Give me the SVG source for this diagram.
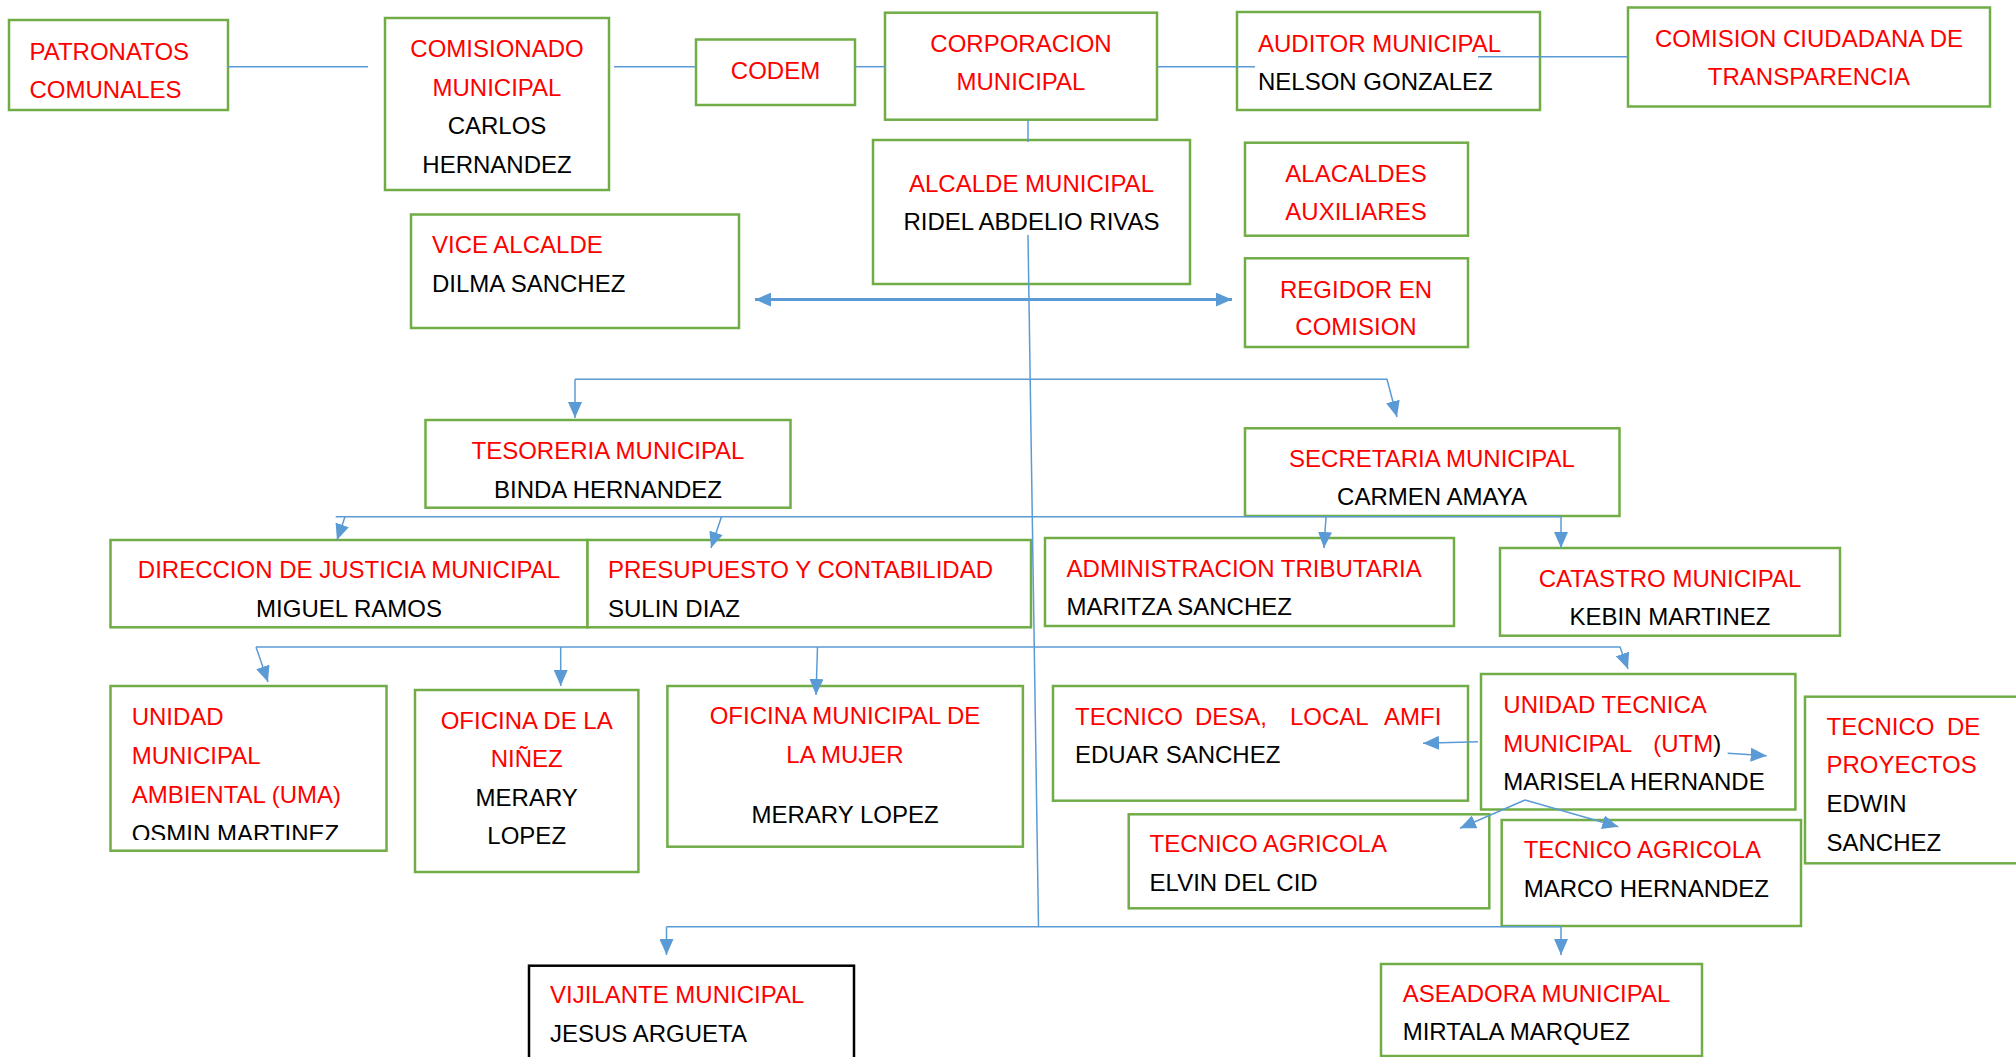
<svg xmlns="http://www.w3.org/2000/svg" width="2016" height="1057" viewBox="0 0 2016 1057">
<style>
text{font-family:"Liberation Sans",Arial,sans-serif;font-size:24px}
.r{fill:#FF0000}
.k{fill:#000000}
.m{text-anchor:middle}
.b{fill:#FFFFFF;stroke:#70AD47;stroke-width:2.5}
.bk{fill:#FFFFFF;stroke:#000000;stroke-width:2.5}
.c{fill:none;stroke:#5B9BD5;stroke-width:1.5}
.ca{fill:none;stroke:#5B9BD5;stroke-width:1.5;marker-end:url(#ah)}
.dbl{fill:none;stroke:#5B9BD5;stroke-width:3;marker-start:url(#ah);marker-end:url(#ah)}
</style>
<defs>
<marker id="ah" viewBox="0 0 16 14" refX="16" refY="7" markerWidth="16" markerHeight="14" markerUnits="userSpaceOnUse" orient="auto-start-reverse">
<path d="M0,0 L16,7 L0,14 z" fill="#5B9BD5"/>
</marker>
<clipPath id="umaClip"><rect x="100" y="680" width="300" height="160"/></clipPath>
</defs>
<rect width="2016" height="1057" fill="#FFFFFF"/>

<g id="n-patronatos"><rect class="b" x="9" y="20" width="219" height="90"/>
<text class="r" x="29.5" y="60">PATRONATOS</text><text class="r" x="29.5" y="97.5">COMUNALES</text></g>

<g id="n-comisionado"><rect class="b" x="385" y="18" width="224" height="172"/>
<text class="r m" x="497" y="57">COMISIONADO</text><text class="r m" x="497" y="95.7">MUNICIPAL</text>
<text class="k m" x="497" y="134.3">CARLOS</text><text class="k m" x="497" y="173">HERNANDEZ</text></g>

<g id="n-codem"><rect class="b" x="696" y="39.5" width="159" height="65.5"/>
<text class="r m" x="775.5" y="79">CODEM</text></g>

<g id="n-corporacion"><rect class="b" x="885" y="12.7" width="272" height="107"/>
<text class="r m" x="1021" y="51.7">CORPORACION</text><text class="r m" x="1021" y="89.5">MUNICIPAL</text></g>

<g id="n-auditor"><rect class="b" x="1237" y="12" width="303" height="98"/>
<text class="r" x="1258" y="51.7">AUDITOR MUNICIPAL</text><text class="k" x="1258" y="89.5">NELSON GONZALEZ</text></g>

<g id="n-comision"><rect class="b" x="1628" y="7.5" width="362" height="99"/>
<text class="r m" x="1809" y="46.7">COMISION CIUDADANA DE</text><text class="r m" x="1809" y="85">TRANSPARENCIA</text></g>

<g id="n-alcalde"><rect class="b" x="873" y="140" width="317" height="144"/>
<text class="r m" x="1031.5" y="191.7">ALCALDE MUNICIPAL</text><text class="k m" x="1031.5" y="230">RIDEL ABDELIO RIVAS</text></g>

<g id="n-alacaldes"><rect class="b" x="1245" y="142.7" width="223" height="93"/>
<text class="r m" x="1356" y="181.7">ALACALDES</text><text class="r m" x="1356" y="220">AUXILIARES</text></g>

<g id="n-regidor"><rect class="b" x="1245" y="258.3" width="223" height="88.7"/>
<text class="r m" x="1356" y="298">REGIDOR EN</text><text class="r m" x="1356" y="335">COMISION</text></g>

<g id="n-vice"><rect class="b" x="411" y="214.5" width="328" height="113.5"/>
<text class="r" x="432" y="253">VICE ALCALDE</text><text class="k" x="432" y="292">DILMA SANCHEZ</text></g>

<g id="n-tesoreria"><rect class="b" x="425.5" y="420" width="365" height="87.7"/>
<text class="r m" x="608" y="459">TESORERIA MUNICIPAL</text><text class="k m" x="608" y="497.7">BINDA HERNANDEZ</text></g>

<g id="n-secretaria"><rect class="b" x="1245" y="428.3" width="374.5" height="87.7"/>
<text class="r m" x="1432" y="466.7">SECRETARIA MUNICIPAL</text><text class="k m" x="1432" y="505">CARMEN AMAYA</text></g>

<g id="n-direccion"><rect class="b" x="110.5" y="540" width="477" height="87.3"/>
<text class="r m" x="349" y="578.3">DIRECCION DE JUSTICIA MUNICIPAL</text><text class="k m" x="349" y="617.3">MIGUEL RAMOS</text></g>

<g id="n-presupuesto"><rect class="b" x="587.5" y="540" width="443.5" height="87.3"/>
<text class="r" x="608" y="578.3">PRESUPUESTO Y CONTABILIDAD</text><text class="k" x="608" y="617.3">SULIN DIAZ</text></g>

<g id="n-admin"><rect class="b" x="1045" y="538" width="409" height="88"/>
<text class="r" x="1066.6" y="576.7">ADMINISTRACION TRIBUTARIA</text><text class="k" x="1066.6" y="615">MARITZA SANCHEZ</text></g>

<g id="n-catastro"><rect class="b" x="1500" y="548" width="340" height="87.7"/>
<text class="r m" x="1670" y="586.7">CATASTRO MUNICIPAL</text><text class="k m" x="1670" y="625">KEBIN MARTINEZ</text></g>

<g id="n-uma"><rect class="b" x="110.5" y="686" width="276" height="164.7"/>
<text class="r" x="131.7" y="725">UNIDAD</text><text class="r" x="131.7" y="764">MUNICIPAL</text>
<text class="r" x="131.7" y="802.7">AMBIENTAL (UMA)</text>
<text class="k" x="131.7" y="842" clip-path="url(#umaClip)">OSMIN MARTINEZ</text></g>

<g id="n-ninez"><rect class="b" x="415" y="690" width="223.4" height="182"/>
<text class="r m" x="526.7" y="729">OFICINA DE LA</text><text class="r m" x="526.7" y="767.3">NIÑEZ</text>
<text class="k m" x="526.7" y="805.7">MERARY</text><text class="k m" x="526.7" y="844.3">LOPEZ</text></g>

<g id="n-mujer"><rect class="b" x="667.4" y="686" width="355.5" height="160.7"/>
<text class="r m" x="845" y="724">OFICINA MUNICIPAL DE</text><text class="r m" x="845" y="763.3">LA MUJER</text>
<text class="k m" x="845" y="823.3">MERARY LOPEZ</text></g>

<g id="n-tecnico-desa"><rect class="b" x="1053" y="686" width="415" height="114.7"/>
<text class="r" y="725"><tspan x="1075">TECNICO</tspan><tspan x="1195">DESA,</tspan><tspan x="1290">LOCAL</tspan><tspan x="1384">AMFI</tspan></text>
<text class="k" x="1075" y="763.3">EDUAR SANCHEZ</text></g>

<g id="n-utm"><rect class="b" x="1481" y="674" width="314.4" height="135.5"/>
<text class="r" x="1503.3" y="712.7">UNIDAD TECNICA</text>
<text class="r" y="752.3"><tspan x="1503.3">MUNICIPAL</tspan><tspan x="1653.3">(UTM</tspan><tspan class="k">)</tspan></text>
<text class="k" x="1503.3" y="790">MARISELA HERNANDE</text></g>

<g id="n-proyectos"><rect class="b" x="1805" y="696.7" width="230" height="166.6"/>
<text class="r" y="735"><tspan x="1826.5">TECNICO</tspan><tspan x="1947">DE</tspan></text>
<text class="r" x="1826.5" y="773.3">PROYECTOS</text>
<text class="k" x="1826.5" y="812.3">EDWIN</text><text class="k" x="1826.5" y="850.7">SANCHEZ</text></g>

<g id="n-agricola-elvin"><rect class="b" x="1128.7" y="814.3" width="360.6" height="94"/>
<text class="r" x="1149.6" y="851.7">TECNICO AGRICOLA</text><text class="k" x="1149.6" y="891">ELVIN DEL CID</text></g>

<g id="n-agricola-marco"><rect class="b" x="1501.7" y="820" width="299.3" height="106"/>
<text class="r" x="1523.7" y="858.3">TECNICO AGRICOLA</text><text class="k" x="1523.7" y="896.7">MARCO HERNANDEZ</text></g>

<g id="n-vijilante"><rect class="bk" x="529" y="965.7" width="325" height="100"/>
<text class="r" x="550" y="1003.3">VIJILANTE MUNICIPAL</text><text class="k" x="550" y="1042.3">JESUS ARGUETA</text></g>

<g id="n-aseadora"><rect class="b" x="1381" y="964" width="321" height="92"/>
<text class="r" x="1402.7" y="1001.7">ASEADORA MUNICIPAL</text><text class="k" x="1402.7" y="1040">MIRTALA MARQUEZ</text></g>

<g id="connectors">
<path class="c" d="M228,66.7 H368"/>
<path class="c" d="M614,66.7 H696"/>
<path class="c" d="M855,66.7 H885"/>
<path class="c" d="M1157,66.7 H1255"/>
<path class="c" d="M1478,56.7 H1628"/>
<path class="c" d="M1028,120 V142"/>
<path class="c" d="M1028,235 L1038.5,926.7"/>
<path class="dbl" d="M755,299.6 H1232"/>
<path class="ca" d="M575,379.3 V418"/>
<path class="ca" d="M575,379.3 H1387 L1397,417"/>
<path class="ca" d="M335.7,516.7 H1561 V548"/>
<path class="ca" d="M345,516.7 L337,540"/>
<path class="ca" d="M721.5,516.7 L711,548"/>
<path class="ca" d="M1326,516.7 L1324,548"/>
<path class="ca" d="M256,647 H1620 L1628,669"/>
<path class="ca" d="M256,647 L268,682"/>
<path class="ca" d="M560.7,647 V686"/>
<path class="ca" d="M817.5,647 L816,695"/>
<path class="ca" d="M666.5,926.7 V955"/>
<path class="ca" d="M666.5,926.7 H1561 V955"/>
<path class="ca" d="M1478,741.7 L1423,743.3"/>
<path class="ca" d="M1727.7,753.3 L1766.7,755.7"/>
<path class="ca" d="M1525,800 L1460,828.3"/>
<path class="ca" d="M1525,800 L1618.3,826.7"/>
</g>
</svg>
